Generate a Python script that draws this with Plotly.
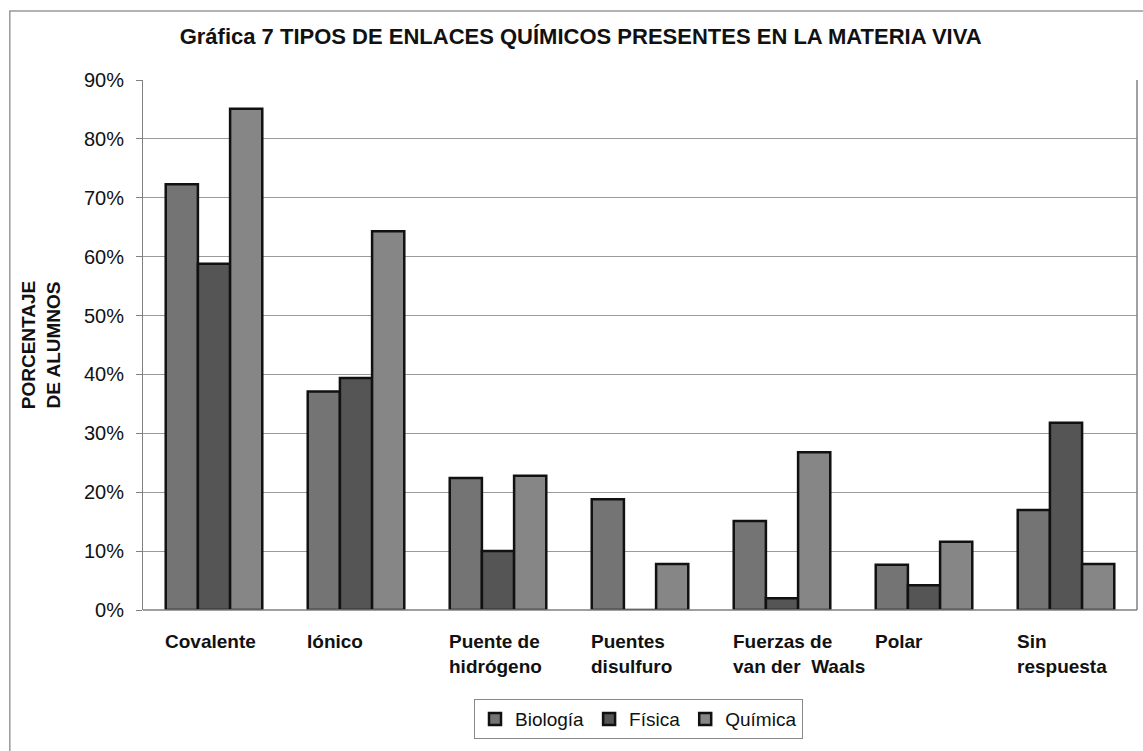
import plotly.graph_objects as go

categorias = ["Covalente", "Iónico", "Puente de<br>hidrógeno", "Puentes<br>disulfuro",
              "Fuerzas de<br>van der  Waals", "Polar", "Sin<br>respuesta"]
biologia = [72.3, 37.1, 22.4, 18.8, 15.1, 7.7, 17.0]
fisica = [58.8, 39.4, 10.0, 0.0, 2.0, 4.2, 31.8]
quimica = [85.1, 64.3, 22.8, 7.8, 26.8, 11.6, 7.8]
ticks_y = [0, 10, 20, 30, 40, 50, 60, 70, 80, 90]

series = [("Biología", biologia, "#747474"),
          ("Física", fisica, "#555555"),
          ("Química", quimica, "#868686")]

FONT = "Liberation Sans, Arial, sans-serif"
xs = list(range(len(categorias)))

fig = go.Figure()
for nombre, valores, color in series:
    fig.add_trace(go.Bar(
        x=xs, y=valores, name=nombre,
        marker=dict(color=color, line=dict(color="#111111", width=2.5)),
    ))

# Category labels, left-aligned under each bar group
for i, cat in enumerate(categorias):
    fig.add_annotation(
        x=i, y=0, xref="x", yref="paper", text=f"<b>{cat}</b>",
        xanchor="left", yanchor="top", align="left",
        xshift=-51, yshift=-19, showarrow=False,
        font=dict(family=FONT, size=19, color="#111111"),
    )

fig.update_layout(
    width=1143, height=751,
    margin=dict(l=143, r=6, t=80, b=141),
    paper_bgcolor="white", plot_bgcolor="white",
    barmode="group", bargap=0.32, bargroupgap=0,
    title=dict(
        text="<b>Gráfica 7 TIPOS DE ENLACES QUÍMICOS PRESENTES EN LA MATERIA VIVA</b>",
        x=0.508, xanchor="center", y=0.951, yanchor="middle",
        font=dict(family=FONT, size=22, color="#111111"),
    ),
    xaxis=dict(
        range=[-0.5, len(categorias) - 0.5],
        showticklabels=False, showgrid=False, zeroline=False,
        showline=False, ticks="",
    ),
    yaxis=dict(
        range=[0, 90], tickvals=ticks_y,
        ticktext=[f"{t}%" for t in ticks_y],
        showgrid=True, gridcolor="#9a9a9a", gridwidth=1,
        showline=True, linecolor="#808080", linewidth=1,
        ticks="outside", ticklen=6, tickcolor="#808080",
        ticklabelstandoff=8,
        zeroline=False,
        tickfont=dict(family=FONT, size=20, color="#111111"),
        title=dict(text="<b>PORCENTAJE<br>DE ALUMNOS</b>", standoff=18,
                   font=dict(family=FONT, size=19, color="#111111")),
    ),
    legend=dict(
        orientation="h", x=0.333, xanchor="left", y=-0.168, yanchor="top",
        bordercolor="#888888", borderwidth=1, bgcolor="white",
        font=dict(family=FONT, size=19, color="#111111"),
        itemwidth=30, tracegroupgap=0,
    ),
    shapes=[
        # outer frame of the chart
        dict(type="rect", xref="paper", yref="paper",
             x0=-0.134, x1=1.2, y0=-0.5, y1=1.13,
             line=dict(color="#999999", width=1.5), layer="below"),
        # bottom baseline and right border of the plot area
        dict(type="line", xref="paper", yref="paper", x0=0, x1=1, y0=0, y1=0,
             line=dict(color="#808080", width=1.5)),
        dict(type="line", xref="paper", yref="paper", x0=1, x1=1, y0=0, y1=1,
             line=dict(color="#808080", width=1.5)),
    ],
)

fig.write_html("out.html")
